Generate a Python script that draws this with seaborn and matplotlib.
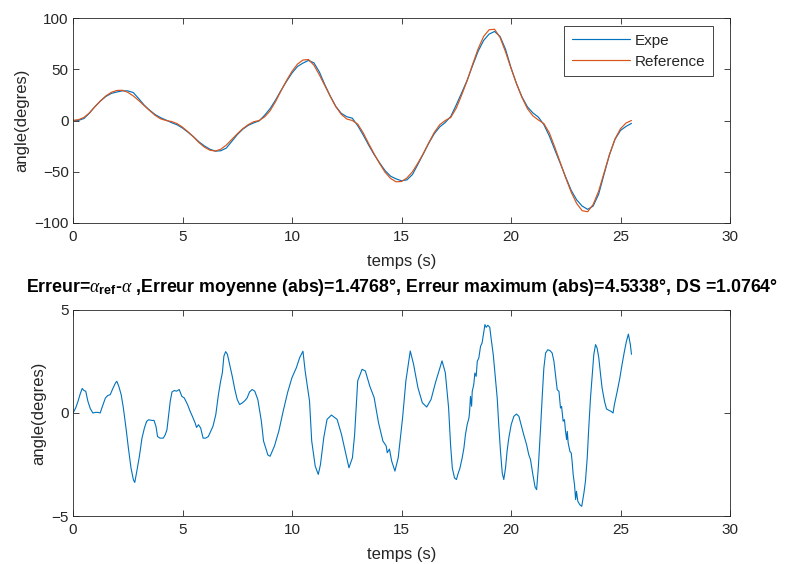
import numpy as np
import pandas as pd
import matplotlib
matplotlib.use("Agg")
import matplotlib.pyplot as plt
import seaborn as sns

# -------------------------------
# Data
# -------------------------------
# top plot: time grid (s) and angles (degrees)
t_top = [0.0, 0.25, 0.5, 0.75, 1.0, 1.25, 1.5, 1.75, 2.0, 2.25, 2.5, 2.75, 3.0, 3.25, 3.5, 3.75,
         4.0, 4.25, 4.5, 4.75, 5.0, 5.25, 5.5, 5.75, 6.0, 6.25, 6.5, 6.75, 7.0, 7.25, 7.5, 7.75,
         8.0, 8.25, 8.5, 8.75, 9.0, 9.25, 9.5, 9.75, 10.0, 10.25, 10.5, 10.75, 11.0, 11.25, 11.5, 11.75,
         12.0, 12.25, 12.5, 12.75, 13.0, 13.25, 13.5, 13.75, 14.0, 14.25, 14.5, 14.75, 15.0, 15.25, 15.5, 15.75,
         16.0, 16.25, 16.5, 16.75, 17.0, 17.25, 17.5, 17.75, 18.0, 18.25, 18.5, 18.75, 19.0, 19.25, 19.5, 19.75,
         20.0, 20.25, 20.5, 20.75, 21.0, 21.25, 21.5, 21.75, 22.0, 22.25, 22.5, 22.75, 23.0, 23.25, 23.5, 23.75,
         24.0, 24.25, 24.5, 24.75, 25.0, 25.25, 25.5]

reference = [0, 0.8, 3, 7.5, 13.5, 19, 24, 27.5, 29.3, 29.5, 27.5, 24, 19.5, 14.5, 9.7, 5,
             1.6, 0, -1, -3, -6.5, -11, -16, -21.5, -26, -29, -29.8, -28, -24, -18.5, -13, -8,
             -4, -1.2, 0, 3.5, 9.5, 18.5, 29, 39, 48, 55, 59, 59.5, 54, 44.5, 34, 23.5,
             13.5, 6, 1.5, 0, -3.5, -12, -22.5, -32.5, -42, -50.5, -56.5, -59.8, -59.5, -56, -50, -41.5,
             -32, -21.5, -11.5, -4, 0, 3, 12, 25, 39, 55, 70, 82, 88.5, 89, 81, 67,
             51, 36, 22.5, 11.5, 4.5, 0.5, -3, -12, -26, -41, -56, -70, -81, -88, -89, -82,
             -69, -51, -33, -18, -8, -2.5, 0]

expe = [0, 0.1, 1.95, 7.15, 13.5, 18.95, 23.4, 26.45, 27.8, 28.9, 28.9, 27.3, 21.4, 15.0, 10.05, 5.8,
        2.8, 0.4, -2.1, -4.15, -7.35, -11.45, -15.8, -20.8, -24.8, -28.0, -29.9, -29.5, -26.9, -20.4, -13.8, -8.55,
        -4.75, -2.35, -0.4, 5.1, 11.6, 19.95, 29.4, 38.2, 46.3, 52.7, 56, 58.6, 56.3, 47.3, 34.9, 23.65,
        13.7, 7, 3.7, 2.3, -5, -14.1, -24, -33.25, -41.3, -48.9, -54.3, -56.95, -58.8, -57.9, -52.7, -42.7,
        -32.45, -21.95, -12.8, -6.2, -1.9, 4, 15.2, 27.1, 39.4, 53.8, 67.6, 78.1, 84.3, 86.9, 82, 69.5,
        51.5, 36, 23.1, 13.3, 7.4, 3.3, -4, -15.1, -28.6, -41.8, -55.4, -68.2, -77.5, -83.5, -86.7, -83.5,
        -72, -52.4, -33.15, -18.3, -9.7, -5.8, -2.8]

# bottom plot: error alpha_ref - alpha (degrees)
t_err = [0.0, 0.12, 0.23, 0.33, 0.42, 0.5, 0.58, 0.68, 0.79, 0.91, 1.03, 1.14, 1.24, 1.33, 1.44, 1.48, 1.59, 1.7, 1.82, 1.94,
         2.0, 2.09, 2.2, 2.3, 2.42, 2.53, 2.65, 2.76, 2.82, 2.91, 3.03, 3.15, 3.26, 3.36, 3.45, 3.61, 3.7, 3.79, 3.86, 3.97,
         4.12, 4.21, 4.29, 4.36, 4.44, 4.52, 4.62, 4.73, 4.85, 4.97, 5.08, 5.23, 5.35, 5.45, 5.58, 5.64, 5.73, 5.83, 5.94, 6.06,
         6.18, 6.29, 6.39, 6.52, 6.64, 6.74, 6.82, 6.89, 6.97, 7.05, 7.15, 7.27, 7.39, 7.5, 7.61, 7.73, 7.85, 7.95, 8.06, 8.18,
         8.3, 8.44, 8.6, 8.7, 8.9, 9.0, 9.2, 9.4, 9.6, 9.8, 10.0, 10.2, 10.35, 10.5, 10.6, 10.8, 10.9, 11.06, 11.2, 11.3,
         11.45, 11.6, 11.8, 12.06, 12.26, 12.46, 12.6, 12.76, 12.86, 13.0, 13.2, 13.35, 13.55, 13.75, 13.95, 14.15, 14.3, 14.35, 14.45, 14.55,
         14.7, 14.85, 15.05, 15.2, 15.4, 15.55, 15.75, 15.95, 16.15, 16.35, 16.55, 16.85, 17.0, 17.15, 17.24, 17.32, 17.42, 17.51, 17.57, 17.67,
         17.77, 17.85, 17.92, 18.0, 18.08, 18.11, 18.15, 18.2, 18.23, 18.3, 18.35, 18.41, 18.46, 18.53, 18.61, 18.68, 18.76, 18.81, 18.87, 18.94,
         19.03, 19.09, 19.19, 19.26, 19.37, 19.44, 19.52, 19.6, 19.67, 19.75, 19.82, 19.9, 20.01, 20.13, 20.25, 20.36, 20.46, 20.58, 20.71, 20.81,
         20.89, 21.0, 21.1, 21.17, 21.25, 21.35, 21.43, 21.5, 21.58, 21.68, 21.78, 21.88, 21.96, 22.03, 22.11, 22.19, 22.26, 22.31, 22.38, 22.44,
         22.49, 22.54, 22.57, 22.61, 22.69, 22.75, 22.79, 22.84, 22.9, 22.95, 22.99, 23.05, 23.14, 23.23, 23.33, 23.4, 23.48, 23.55, 23.63, 23.71,
         23.78, 23.86, 23.93, 24.01, 24.09, 24.16, 24.27, 24.36, 24.47, 24.57, 24.66, 24.72, 24.85, 24.97, 25.07, 25.18, 25.27, 25.36, 25.45, 25.5]

error = [0.0, 0.24, 0.57, 0.93, 1.19, 1.09, 1.06, 0.57, 0.21, 0.0, 0.03, 0.03, 0.0, 0.28, 0.6, 0.73, 0.85, 0.89, 1.19, 1.46,
         1.54, 1.3, 0.89, 0.24, -0.73, -1.71, -2.68, -3.25, -3.37, -2.85, -2.11, -1.22, -0.73, -0.41, -0.33, -0.36, -0.36, -0.65, -1.14, -1.22,
         -1.22, -1.06, -0.81, -0.16, 0.57, 1.02, 1.09, 1.06, 1.14, 0.81, 0.73, 0.41, 0.08, -0.16, -0.49, -0.7, -0.57, -0.73, -1.22, -1.22,
         -1.14, -0.89, -0.65, -0.08, 0.89, 1.54, 1.95, 2.76, 2.98, 2.85, 2.36, 1.79, 1.14, 0.65, 0.41, 0.49, 0.6, 0.73, 1.02, 1.14,
         1.06, 0.65, -0.39, -1.36, -2.04, -2.1, -1.6, -0.87, 0.1, 1.0, 1.72, 2.2, 2.69, 3.0, 2.04, 0.58, -1.36, -2.58, -2.98, -2.5,
         -1.2, -0.31, -0.1, -0.31, -1.04, -2.0, -2.66, -2.17, -1.04, 1.56, 2.12, 2.04, 1.31, 0.75, -0.47, -1.36, -1.6, -1.93, -1.75, -2.33,
         -2.82, -2.17, -0.23, 1.56, 3.01, 2.37, 1.23, 0.5, 0.29, 0.66, 1.47, 2.53, 1.96, 0.26, -1.53, -2.67, -3.15, -3.23, -2.99, -2.67,
         -2.18, -1.7, -1.05, -0.56, -0.24, 0.08, 0.81, 0.33, 1.05, 1.38, 1.94, 1.78, 2.51, 2.67, 3.24, 3.4, 3.97, 4.29, 4.16, 4.26,
         4.16, 3.64, 2.83, 2.02, 0.73, -0.56, -1.86, -2.91, -3.23, -2.67, -1.86, -1.21, -0.56, -0.16, -0.05, -0.16, -0.56, -1.05, -1.53, -2.02,
         -2.26, -3.0, -3.6, -3.72, -2.6, -0.73, 0.89, 2.18, 2.91, 3.07, 3.03, 2.91, 2.51, 1.86, 1.13, 1.05, 0.24, 0.32, -0.4, -0.32,
         -0.89, -1.29, -0.89, -1.45, -1.86, -1.94, -2.34, -2.99, -3.48, -4.2, -3.8, -4.28, -4.45, -4.53, -3.88, -3.31, -2.18, -0.73, 0.73, 1.86,
         2.83, 3.32, 3.16, 2.67, 1.86, 1.21, 0.57, 0.2, 0.13, 0.08, 0.0, 0.4, 1.05, 1.7, 2.35, 3.0, 3.48, 3.83, 3.32, 2.85]

top_df = pd.DataFrame({"temps": t_top, "Expe": expe, "Reference": reference})
err_df = pd.DataFrame({"temps": t_err, "erreur": error})

# -------------------------------
# Style (MATLAB look)
# -------------------------------
sns.set_style("ticks")
plt.rcParams["font.family"] = ["Liberation Sans", "DejaVu Sans"]
plt.rcParams["mathtext.fontset"] = "custom"
plt.rcParams["mathtext.it"] = "Liberation Serif:italic"
plt.rcParams["mathtext.bf"] = "Liberation Sans:bold"
plt.rcParams["font.size"] = 11

blue = "#0072BD"
orange = "#D95319"
dark = "#262626"

fig = plt.figure(figsize=(7.85, 5.64), dpi=100)
ax1 = fig.add_axes([73 / 785, 1 - 223 / 564, 657 / 785, 205 / 564])
ax2 = fig.add_axes([73 / 785, 1 - 516 / 564, 657 / 785, 206 / 564])

sns.lineplot(data=top_df, x="temps", y="Expe", ax=ax1, color=blue, linewidth=0.85, label="Expe")
sns.lineplot(data=top_df, x="temps", y="Reference", ax=ax1, color=orange, linewidth=0.85, label="Reference")
sns.lineplot(data=err_df, x="temps", y="erreur", ax=ax2, color=blue, linewidth=0.8)

for ax in (ax1, ax2):
    ax.set_xlim(0, 30)
    ax.set_xticks(range(0, 31, 5))
    ax.set_xlabel("temps (s)", fontsize=12, color=dark, labelpad=7)
    ax.set_ylabel("angle(degres)", fontsize=12, color=dark, labelpad=4)
    ax.tick_params(direction="in", length=4, width=0.6, colors=dark, labelsize=11,
                   top=True, right=True)
    ax.tick_params(axis="x", pad=5)
    ax.tick_params(axis="y", pad=3)
    for sp in ax.spines.values():
        sp.set_visible(True)
        sp.set_color(dark)
        sp.set_linewidth(0.6)

ax1.set_ylim(-100, 100)
ax1.set_yticks([-100, -50, 0, 50, 100])
ax2.set_ylim(-5, 5)
ax2.set_yticks([-5, 0, 5])

leg = ax1.legend(loc="upper right", bbox_to_anchor=(0.974, 0.961), borderaxespad=0,
                 fancybox=False, framealpha=1, edgecolor=dark, fontsize=11,
                 handlelength=3.8, borderpad=0.5, labelspacing=0.45, handletextpad=0.3)
leg.get_frame().set_linewidth(0.6)

ax2.set_title(r"Erreur=$\alpha_{\mathbf{ref}}$-$\alpha$ ,Erreur moyenne (abs)=1.4768°, "
              r"Erreur maximum (abs)=4.5338°, DS =1.0764°",
              fontsize=12.8, fontweight="bold", color="black", pad=13)

plt.savefig("out.png", dpi=100)
